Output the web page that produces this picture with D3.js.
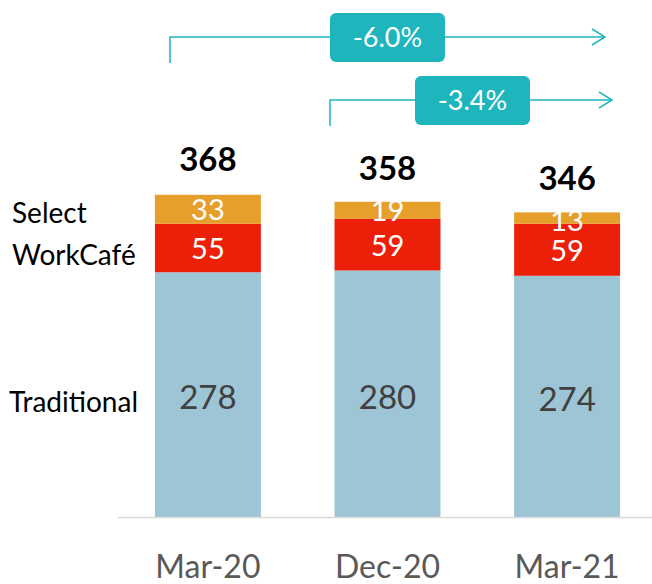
<!DOCTYPE html>
<html>
<head>
<meta charset="utf-8">
<script src="https://cdn.jsdelivr.net/npm/d3@7"></script>
<style>
    body { margin: 0; background: #fff; }
    svg { font-family: Lato, "Open Sans", sans-serif; }
</style>
</head>
<body>
<script>
// data
const periods = ["Mar-20", "Dec-20", "Mar-21"];
const traditional = [278, 280, 274];
const workcafe = [55, 59, 59];
const select = [33, 19, 13];
const totals = [368, 358, 346];
const changes = ["-6.0%", "-3.4%"];

let wSvg = 652;
let hSvg = 584;

const svg = d3.select("body")
    .append("svg")
    .attr("width", wSvg)
    .attr("height", hSvg);

const x = d3.scaleBand()
    .domain(periods)
    .range([119, 656])
    .paddingInner(0.41)
    .paddingOuter(0.2);

const y = d3.scaleLinear()
    .domain([0, 368])
    .range([517, 193]);

const rows = periods.map((p, i) => ({
    period: p,
    Traditional: traditional[i],
    WorkCafe: workcafe[i],
    Select: select[i]
}));

const stack = d3.stack().keys(["Traditional", "WorkCafe", "Select"]);
const series = stack(rows);
const colors = { Traditional: "#9dc5d5", WorkCafe: "#ec2008", Select: "#e69f2b" };

// bars
svg.append("g")
    .selectAll("g")
    .data(series)
    .enter()
    .append("g")
    .attr("fill", (s) => colors[s.key])
    .selectAll("rect")
    .data((s) => s)
    .enter()
    .append("rect")
    .attr("x", (d) => x(d.data.period))
    .attr("width", x.bandwidth())
    .attr("y", (d) => y(d[1]))
    .attr("height", (d) => y(d[0]) - y(d[1]));

// baseline
svg.append("line")
    .attr("x1", 118).attr("x2", wSvg)
    .attr("y1", y(0) + 0.5).attr("y2", y(0) + 0.5)
    .attr("stroke", "#d9d9d9")
    .attr("stroke-width", 1.5);

// segment labels
series.forEach((s) => {
    svg.append("g")
        .selectAll("text")
        .data(s)
        .enter()
        .append("text")
        .attr("x", (d) => x(d.data.period) + x.bandwidth() / 2)
        .attr("y", (d) => {
            let mid = (y(d[0]) + y(d[1])) / 2;
            if (s.key === "Traditional") mid += 3;
            if (s.key === "WorkCafe") mid += 1;
            if (s.key === "Select") mid = Math.max(mid, y(d[1]) + 8);
            return mid;
        })
        .attr("dy", "0.36em")
        .attr("text-anchor", "middle")
        .attr("font-size", s.key === "Traditional" ? 33 : 29)
        .attr("fill", s.key === "Traditional" ? "#404040" : "#fff")
        .text((d) => d.data[s.key]);
});

// totals
svg.append("g")
    .selectAll("text")
    .data(totals)
    .enter()
    .append("text")
    .attr("x", (d, i) => x(periods[i]) + x.bandwidth() / 2)
    .attr("y", (d) => y(d) - 34)
    .attr("dy", "0.36em")
    .attr("text-anchor", "middle")
    .attr("font-size", 33)
    .attr("font-weight", "bold")
    .attr("fill", "#000")
    .text((d) => d);

// category labels
svg.append("g")
    .selectAll("text")
    .data(periods)
    .enter()
    .append("text")
    .attr("x", (d) => x(d) + x.bandwidth() / 2)
    .attr("y", 566)
    .attr("dy", "0.36em")
    .attr("text-anchor", "middle")
    .attr("font-size", 32)
    .attr("fill", "#595959")
    .text((d) => d);

// left legend labels
const legend = [
    { text: "Select", x: 12, y: 213 },
    { text: "WorkCafé", x: 12, y: 255 },
    { text: "Traditional", x: 9, y: 402 }
];
svg.append("g")
    .selectAll("text")
    .data(legend)
    .enter()
    .append("text")
    .attr("x", (d) => d.x)
    .attr("y", (d) => d.y)
    .attr("dy", "0.36em")
    .attr("font-size", 28)
    .attr("fill", "#000")
    .text((d) => d.text);

// change arrows
const teal = "#1fb5bd";
const arrowStart = [170, 330];
const arrowY = [37, 100];
const arrowEnd = [605, 612];
const boxX = [330, 415];
changes.forEach((label, i) => {
    const g = svg.append("g");
    const ay = arrowY[i];
    g.append("path")
        .attr("d", `M${arrowStart[i]},${ay + 26}V${ay}H${arrowEnd[i]}`)
        .attr("fill", "none")
        .attr("stroke", teal)
        .attr("stroke-width", 1.5);
    g.append("path")
        .attr("d", `M${arrowEnd[i] - 13},${ay - 8}L${arrowEnd[i]},${ay}L${arrowEnd[i] - 13},${ay + 8}`)
        .attr("fill", "none")
        .attr("stroke", teal)
        .attr("stroke-width", 1.5);
    g.append("rect")
        .attr("x", boxX[i])
        .attr("y", ay - 24)
        .attr("width", 115)
        .attr("height", 49)
        .attr("rx", 6)
        .attr("fill", teal);
    g.append("text")
        .attr("x", boxX[i] + 57.5)
        .attr("y", ay)
        .attr("dy", "0.36em")
        .attr("text-anchor", "middle")
        .attr("font-size", 27)
        .attr("fill", "#fff")
        .text(label);
});
</script>
</body>
</html>
